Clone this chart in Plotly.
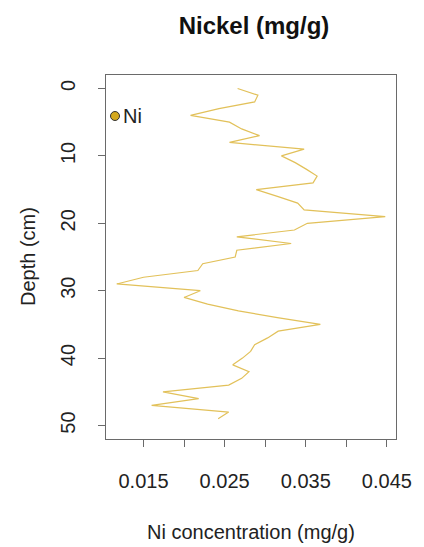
import plotly.graph_objects as go

# Core profile: nickel concentration (mg/g) by depth (cm)
depth_cm = [0, 1, 2, 3, 4, 5, 6, 7, 8, 9, 10, 11, 12, 13, 14, 15, 16, 17, 18, 19,
            20, 21, 22, 23, 24, 25, 26, 27, 28, 29, 30, 31, 32, 33, 34, 35, 36, 37,
            38, 39, 40, 41, 42, 43, 44, 45, 46, 47, 48, 49]
ni_mg_g = [0.0266, 0.0291, 0.0287, 0.0243, 0.0208, 0.0256, 0.0271, 0.0293, 0.0256, 0.0348,
           0.0320, 0.0337, 0.0351, 0.0364, 0.0359, 0.0289, 0.0315, 0.0340, 0.0348, 0.0448,
           0.0352, 0.0336, 0.0265, 0.0332, 0.0265, 0.0263, 0.0223, 0.0217, 0.0150, 0.0117,
           0.0220, 0.0200, 0.0229, 0.0267, 0.0315, 0.0368, 0.0316, 0.0303, 0.0287, 0.0282,
           0.0272, 0.0260, 0.0280, 0.0271, 0.0255, 0.0174, 0.0218, 0.0160, 0.0255, 0.0242]

x_ticks = [0.015, 0.020, 0.025, 0.030, 0.035, 0.040, 0.045]
x_tick_labels = ["0.015", "", "0.025", "", "0.035", "", "0.045"]
y_ticks = [0, 10, 20, 30, 40, 50]

FONT = "Liberation Sans, Arial, Helvetica, sans-serif"
LINE_COL = "#E2C15A"
KEY_COL = "#D4A91E"
FRAME = "#6a6a6a"
TXT = "#222"
FS = 20

# R-style 4% padding on the data range
xmin, xmax = min(ni_mg_g), max(ni_mg_g)
pad = 0.04 * (xmax - xmin)

fig = go.Figure()
fig.add_trace(go.Scatter(
    x=ni_mg_g, y=depth_cm, mode="lines",
    line=dict(color=LINE_COL, width=1.2),
    showlegend=False, hoverinfo="skip",
))

fig.update_layout(
    width=424, height=547,
    margin=dict(l=106, r=21, t=75, b=108),
    paper_bgcolor="white", plot_bgcolor="white",
    font=dict(family=FONT, size=FS, color=TXT),
    showlegend=False,
    title=dict(text="<b>Nickel (mg/g)</b>", x=254 / 424, xanchor="center",
               y=1 - 26 / 547, yanchor="middle",
               font=dict(family=FONT, size=24, color="#111")),
)

fig.update_xaxes(
    range=[xmin - pad, xmax + pad],
    tickvals=x_ticks, ticktext=x_tick_labels,
    ticks="outside", ticklen=7, tickwidth=1, tickcolor=FRAME,
    showline=True, linecolor=FRAME, linewidth=1, mirror=True,
    showgrid=False, zeroline=False,
    tickfont=dict(size=FS, color=TXT),
    ticklabelstandoff=17,
)
fig.update_yaxes(
    range=[52, -2],
    tickvals=y_ticks,
    ticks="outside", ticklen=7, tickwidth=1, tickcolor=FRAME,
    showline=True, linecolor=FRAME, linewidth=1, mirror=True,
    showgrid=False, zeroline=False,
    tickangle=-90,
    tickfont=dict(size=FS, color=TXT),
    ticklabelstandoff=15,
)

# Axis titles
fig.add_annotation(text="Ni concentration (mg/g)", xref="paper", yref="paper",
                   x=0.5, y=0, yshift=-93, xanchor="center", yanchor="middle",
                   showarrow=False, font=dict(size=FS, color=TXT))
fig.add_annotation(text="Depth (cm)", xref="paper", yref="paper",
                   x=0, xshift=-78, y=0.5, xanchor="center", yanchor="middle",
                   textangle=-90, showarrow=False, font=dict(size=FS, color=TXT))

# Legend key: filled point and series name in the top-left corner
fig.add_shape(type="circle", xref="paper", yref="paper",
              xsizemode="pixel", ysizemode="pixel", xanchor=0, yanchor=1,
              x0=4.5, x1=13.5, y0=-45.5, y1=-36.5,
              fillcolor=KEY_COL, line=dict(color="#333", width=1))
fig.add_annotation(text="Ni", xref="paper", yref="paper",
                   x=0, xshift=15, y=1, yshift=-41, xanchor="left", yanchor="middle",
                   showarrow=False, font=dict(size=FS, color=TXT))

fig.write_html("out.html")
